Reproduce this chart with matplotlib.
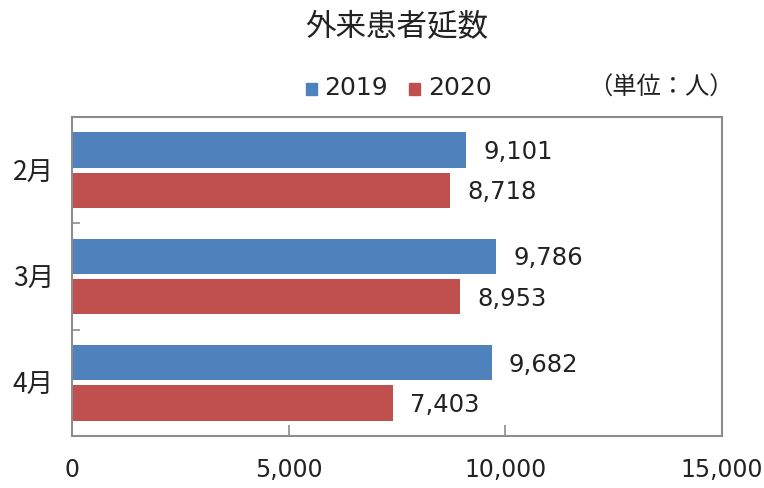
import matplotlib.pyplot as plt
import numpy as np

plt.rcParams['font.family'] = ['Noto Sans CJK JP', 'DejaVu Sans']

months = ['2月', '3月', '4月']
years = ['2019', '2020']
visits_2019 = [9101, 9786, 9682]
visits_2020 = [8718, 8953, 7403]
xticks = [0, 5000, 10000, 15000]

blue = '#4F81BD'
red = '#C0504D'
text_col = '#222222'
frame_col = '#8C8C8C'

fig = plt.figure(figsize=(7.64, 4.88), dpi=100)
ax = fig.add_axes([72 / 764, 1 - 436 / 488, 650 / 764, 319 / 488])

y = np.arange(len(months))
h = 0.33
off = 0.19
b1 = ax.barh(y - off, visits_2019, height=h, color=blue, label=years[0])
b2 = ax.barh(y + off, visits_2020, height=h, color=red, label=years[1])

for bars, vals in [(b1, visits_2019), (b2, visits_2020)]:
    for bar, v in zip(bars, vals):
        ax.text(v + 400, bar.get_y() + bar.get_height() / 2 + 0.02, f'{v:,}',
                va='center', ha='left', fontsize=17.5, color=text_col,
                family='DejaVu Sans')

ax.set_xlim(0, 15000)
ax.set_ylim(len(months) - 0.5, -0.5)

ax.set_xticks(xticks)
ax.set_xticklabels([f'{t:,}' for t in xticks], family='DejaVu Sans',
                   fontsize=17, color=text_col)
ax.tick_params(axis='x', direction='in', length=8, width=1.2,
               color=frame_col, pad=16)

ax.set_yticks(y)
ax.set_yticklabels(months, fontsize=19, color=text_col)
ax.tick_params(axis='y', which='major', length=0, pad=13)
ax.set_yticks([0.5, 1.5], minor=True)
ax.tick_params(axis='y', which='minor', direction='in', length=6,
               width=1.2, color=frame_col)

for s in ax.spines.values():
    s.set_color(frame_col)
    s.set_linewidth(1.5)

fig.text(397 / 764, 1 - 28 / 488, '外来患者延数', ha='center', va='center',
         fontsize=22, color=text_col)

# legend drawn as squares + labels above the plot area
fig.patches.append(plt.Rectangle((306 / 764, 1 - 95 / 488), 11 / 764, 12 / 488,
                                 transform=fig.transFigure, color=blue))
fig.text(324 / 764, 1 - 88 / 488, years[0], ha='left', va='center',
         fontsize=18, color=text_col, family='DejaVu Sans')
fig.patches.append(plt.Rectangle((409 / 764, 1 - 95 / 488), 11 / 764, 12 / 488,
                                 transform=fig.transFigure, color=red))
fig.text(428 / 764, 1 - 88 / 488, years[1], ha='left', va='center',
         fontsize=18, color=text_col, family='DejaVu Sans')

fig.text(588 / 764, 1 - 88 / 488, '（単位：人）', ha='left', va='center',
         fontsize=17.5, color=text_col)

fig.savefig('out.png', dpi=100, facecolor='white')
